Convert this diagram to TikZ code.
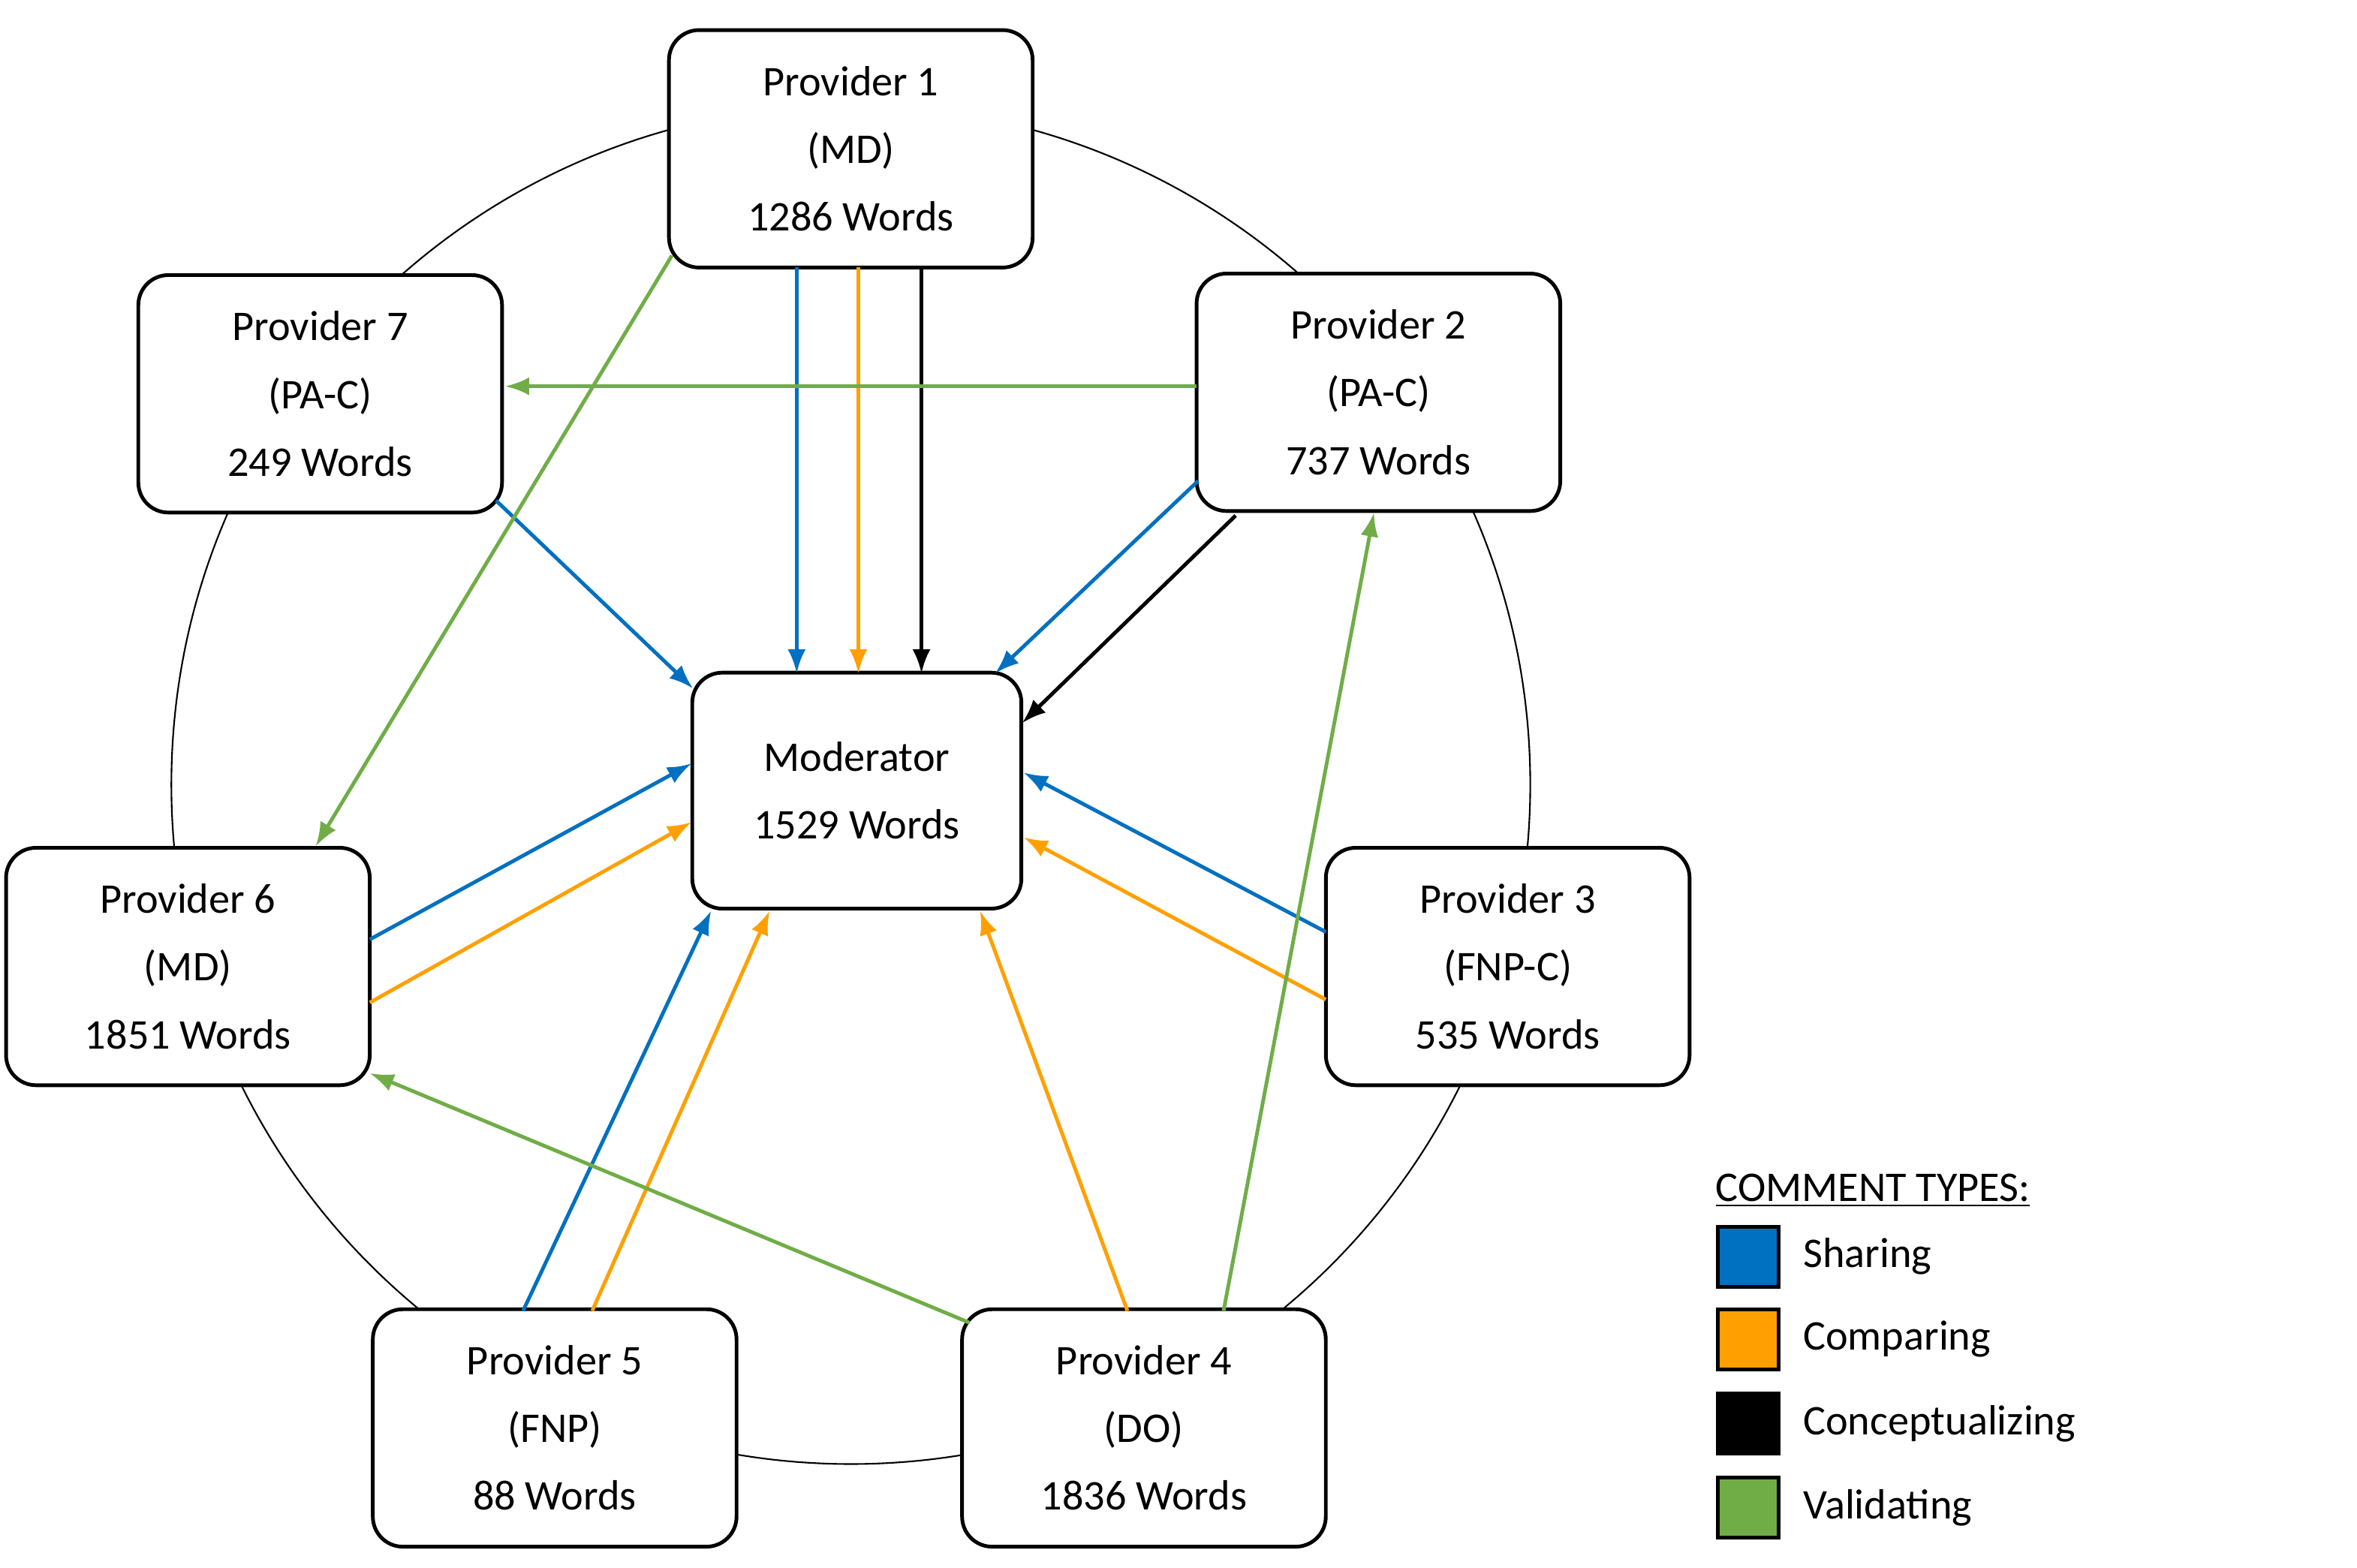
\documentclass[tikz,border=0pt]{standalone}
\usepackage{fontspec}
\setmainfont{Carlito}
\usetikzlibrary{arrows.meta}
\definecolor{cb}{RGB}{0,112,192}
\definecolor{co}{RGB}{255,160,0}
\definecolor{cg}{RGB}{112,173,71}
\begin{document}
\begin{tikzpicture}[x=0.02cm,y=-0.02cm,
 box/.style={draw,line width=1.4pt,rounded corners=0.4cm,fill=white,minimum width=4.84cm,minimum height=3.16cm,align=center,font=\fontsize{16}{25.6}\selectfont},
 ar/.style={line width=1.4pt,-{Latex[length=0.32cm,width=0.24cm]}},
 B/.style={ar,cb},O/.style={ar,co},K/.style={ar,black},G/.style={ar,cg},
 leg/.style={draw,line width=1.4pt,minimum width=0.8cm,minimum height=0.8cm,inner sep=0}]
\useasboundingbox (0,0) rectangle (1568,1043);
\draw[line width=0.6pt] (566,522) circle (452*0.02cm);
\node[box] (P1) at (566,99) {Provider 1\\(MD)\\1286 Words};
\node[box] (P2) at (917,261) {Provider 2\\(PA-C)\\737 Words};
\node[box] (P3) at (1003,643) {Provider 3\\(FNP-C)\\535 Words};
\node[box] (P4) at (761,950) {Provider 4\\(DO)\\1836 Words};
\node[box] (P5) at (369,950) {Provider 5\\(FNP)\\88 Words};
\node[box] (P6) at (125,643) {Provider 6\\(MD)\\1851 Words};
\node[box] (P7) at (213,262) {Provider 7\\(PA-C)\\249 Words};
\node[box,minimum width=4.38cm,minimum height=3.14cm] (M) at (570,526) {Moderator\\1529 Words};
\newcommand{\ar}[6]{\draw[#1] ([shift={(#3)}]#2.center) -- ([shift={(#5)}]#4.center);}
\ar{B}{P1}{-36,79}{M}{-40,-78}
\ar{O}{P1}{-16,79}{M}{-20,-78}
\ar{O}{P1}{5,79}{M}{1,-78}
\ar{K}{P1}{26,79}{M}{22,-78}
\ar{K}{P1}{47,79}{M}{43,-78}
\ar{G}{P2}{-117,-73}{P1}{122,64}
\ar{G}{P2}{-121,-4}{P7}{123,-5}
\ar{G}{P7}{123,14}{P2}{-121,15}
\ar{B}{P7}{117,71}{M}{-109,-68}
\ar{G}{P7}{121,-34}{P3}{-100,-78}
\ar{B}{P2}{-120,59}{M}{92,-78}
\ar{O}{P2}{-111,74}{M}{110,-69}
\ar{K}{P2}{-95,82}{M}{110,-45}
\ar{G}{P6}{109,-77}{P1}{-100,81}
\ar{G}{P1}{-119,71}{P6}{85,-80}
\ar{G}{P6}{122,-55}{P2}{-125,-35}
\ar{B}{P6}{121,-18}{M}{-110,-18}
\ar{O}{P6}{121,2}{M}{-110,1}
\ar{O}{P6}{121,24}{M}{-110,21}
\ar{G}{P6}{121,57}{P3}{-123,47}
\ar{B}{P3}{-121,-23}{M}{111,-12}
\ar{O}{P3}{-121,2}{M}{111,10}
\ar{O}{P3}{-121,22}{M}{111,31}
\ar{G}{P5}{-51,-78}{P6}{109,79}
\ar{B}{P5}{-21,-78}{M}{-97,80}
\ar{O}{P5}{3,-78}{M}{-80,80}
\ar{O}{P5}{25,-78}{M}{-58,80}
\ar{G}{P5}{119,-70}{P3}{-121,72}
\ar{G}{P4}{-116,-70}{P6}{121,71}
\ar{B}{P4}{-31,-78}{M}{60,80}
\ar{O}{P4}{-11,-78}{M}{82,80}
\ar{K}{P4}{11,-78}{M}{102,80}
\ar{G}{P4}{53,-78}{P2}{-3,80}
\ar{G}{P4}{75,-78}{P3}{-107,79}
\node[anchor=west,inner sep=0,font=\fontsize{16}{20}\selectfont] (lt) at (1141,792) {\underline{COMMENT TYPES:}};
\node[leg,fill=cb] (l1) at (1163,836) {};
\node[leg,fill=co] (l2) at (1163,891) {};
\node[leg,fill=black] (l3) at (1163,947) {};
\node[leg,fill=cg] (l4) at (1163,1003) {};
\foreach \n/\t in {l1/Sharing,l2/Comparing,l3/Conceptualizing /Organizing,l4/Validating}
  \node[anchor=west,inner sep=0,font=\fontsize{16}{20}\selectfont] at ([xshift=0.3cm]\n.east) {\t};
\end{tikzpicture}
\end{document}
